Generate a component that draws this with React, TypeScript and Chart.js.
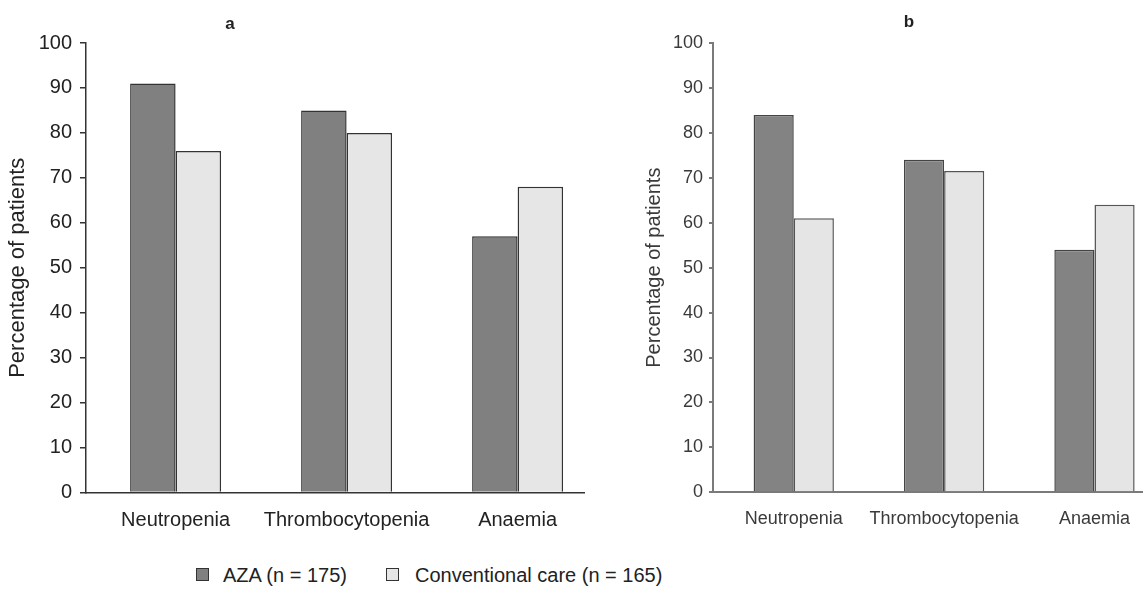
import React, { useEffect, useRef } from 'react';
import { Chart, registerables } from 'chart.js';

Chart.register(...registerables);

// ---- Data ----
const CATEGORIES = ['Neutropenia', 'Thrombocytopenia', 'Anaemia'];
const SERIES_NAMES = ['AZA (n = 175)', 'Conventional care (n = 165)'];
const AZA_A = [91, 85, 57];
const CONV_A = [76, 80, 68];
const AZA_B = [84, 74, 54];
const CONV_B = [61, 71.5, 64];
const Y_MIN = 0;
const Y_MAX = 100;
const Y_STEP = 10;
const Y_TITLE = 'Percentage of patients';
const PANEL_TITLES = ['a', 'b'];

const FONT = "'Liberation Sans', Arial, Helvetica, sans-serif";

type Panel = {
  aza: number[];
  conv: number[];
  xMin: number;
  xMax: number;
  catPct: number;
  padTop: number;
  padRight: number;
  yWidth: number;
  xHeight: number;
  xPad: number;
  tickLen: number;
  tickPad: number;
  titlePad: number;
  tickFont: number;
  titleFont: number;
  textColor: string;
  axisColor: string;
  axisWidth: number;
  azaFill: string;
  azaBorder: string;
  convFill: string;
  convBorder: string;
  barBorder: number;
};

function buildConfig(p: Panel): any {
  return {
    type: 'bar',
    data: {
      datasets: [
        {
          label: SERIES_NAMES[0],
          data: p.aza.map((v, i) => ({ x: i, y: v })),
          backgroundColor: p.azaFill,
          borderColor: p.azaBorder,
          borderWidth: p.barBorder,
          categoryPercentage: p.catPct,
          barPercentage: 1,
        },
        {
          label: SERIES_NAMES[1],
          data: p.conv.map((v, i) => ({ x: i, y: v })),
          backgroundColor: p.convFill,
          borderColor: p.convBorder,
          borderWidth: p.barBorder,
          categoryPercentage: p.catPct,
          barPercentage: 1,
        },
      ],
    },
    options: {
      animation: false,
      responsive: false,
      maintainAspectRatio: false,
      devicePixelRatio: 1,
      layout: { padding: { top: p.padTop, right: p.padRight, bottom: 0, left: 0 } },
      plugins: {
        legend: { display: false },
        tooltip: { enabled: false },
        title: { display: false },
      },
      scales: {
        x: {
          type: 'linear',
          min: p.xMin,
          max: p.xMax,
          bounds: 'data',
          offset: false,
          grid: { display: false, drawTicks: false },
          border: { display: true, color: p.axisColor, width: p.axisWidth },
          ticks: {
            padding: p.xPad,
            color: p.textColor,
            font: { family: FONT, size: p.tickFont },
            maxRotation: 0,
            autoSkip: false,
            callback: (v: number) => CATEGORIES[v] ?? '',
          },
          afterBuildTicks: (s: any) => {
            s.ticks = CATEGORIES.map((_, i) => ({ value: i }));
          },
          afterFit: (s: any) => {
            s.height = p.xHeight;
          },
        },
        y: {
          type: 'linear',
          min: Y_MIN,
          max: Y_MAX,
          ticks: {
            stepSize: Y_STEP,
            padding: p.tickPad,
            color: p.textColor,
            font: { family: FONT, size: p.tickFont },
          },
          grid: {
            drawOnChartArea: false,
            drawTicks: true,
            tickLength: p.tickLen,
            color: p.axisColor,
            lineWidth: p.axisWidth,
          },
          border: { display: true, color: p.axisColor, width: p.axisWidth },
          title: {
            display: true,
            text: Y_TITLE,
            color: p.textColor,
            font: { family: FONT, size: p.titleFont },
            padding: { top: p.titlePad, bottom: 0 },
          },
          afterFit: (s: any) => {
            s.width = p.yWidth;
          },
        },
      },
    },
  };
}

const PANEL_A: Panel = {
  aza: AZA_A,
  conv: CONV_A,
  xMin: -0.524,
  xMax: 2.39,
  catPct: 0.532,
  padTop: 43,
  padRight: 15.7,
  yWidth: 86,
  xHeight: 52.5,
  xPad: 16,
  tickLen: 6,
  tickPad: 8,
  titlePad: 5,
  tickFont: 20,
  titleFont: 22,
  textColor: '#222222',
  axisColor: '#333333',
  axisWidth: 1.5,
  azaFill: '#808080',
  azaBorder: '#333333',
  convFill: '#e6e6e6',
  convBorder: '#333333',
  barBorder: 1.5,
};

const PANEL_B: Panel = {
  aza: AZA_B,
  conv: CONV_B,
  xMin: -0.537,
  xMax: 2.317,
  catPct: 0.534,
  padTop: 43,
  padRight: 0,
  yWidth: 83,
  xHeight: 52.7,
  xPad: 16,
  tickLen: 4,
  tickPad: 6,
  titlePad: 12.5,
  tickFont: 18,
  titleFont: 20,
  textColor: '#3a3a3a',
  axisColor: '#7a7a7a',
  axisWidth: 2,
  azaFill: '#838383',
  azaBorder: '#444444',
  convFill: '#e5e5e5',
  convBorder: '#555555',
  barBorder: 1.5,
};

function BarPanel({ panel, left, width, height }: { panel: Panel; left: number; width: number; height: number }) {
  const ref = useRef<HTMLCanvasElement | null>(null);
  useEffect(() => {
    if (!ref.current) return;
    const chart = new Chart(ref.current, buildConfig(panel));
    return () => chart.destroy();
  }, [panel]);
  return (
    <canvas
      ref={ref}
      width={width}
      height={height}
      style={{ position: 'absolute', left, top: 0, width, height, display: 'block' }}
    />
  );
}

function LegendItem({ fill, label, boxLeft, textLeft }: { fill: string; label: string; boxLeft: number; textLeft: number }) {
  return (
    <>
      <div
        style={{
          position: 'absolute',
          left: boxLeft,
          top: 568,
          width: 11,
          height: 11,
          background: fill,
          border: '1px solid #333',
        }}
      />
      <div
        style={{
          position: 'absolute',
          left: textLeft,
          top: 565,
          fontSize: 20,
          lineHeight: '20px',
          color: '#222',
          whiteSpace: 'nowrap',
        }}
      >
        {label}
      </div>
    </>
  );
}

export default function App() {
  return (
    <div
      style={{
        position: 'absolute',
        left: 0,
        top: 0,
        width: 1146,
        height: 604,
        background: '#ffffff',
        fontFamily: FONT,
        overflow: 'hidden',
      }}
    >
      <BarPanel panel={PANEL_A} left={0} width={600} height={545} />
      <BarPanel panel={PANEL_B} left={630} width={516} height={545} />
      <div
        style={{
          position: 'absolute',
          left: 215,
          width: 30,
          textAlign: 'center',
          top: 15,
          fontSize: 17,
          lineHeight: '17px',
          fontWeight: 'bold',
          color: '#222',
        }}
      >
        {PANEL_TITLES[0]}
      </div>
      <div
        style={{
          position: 'absolute',
          left: 894,
          width: 30,
          textAlign: 'center',
          top: 12.5,
          fontSize: 17,
          lineHeight: '17px',
          fontWeight: 'bold',
          color: '#222',
        }}
      >
        {PANEL_TITLES[1]}
      </div>
      <LegendItem fill="#808080" label={SERIES_NAMES[0]} boxLeft={196} textLeft={223} />
      <LegendItem fill="#e6e6e6" label={SERIES_NAMES[1]} boxLeft={386} textLeft={415} />
    </div>
  );
}
